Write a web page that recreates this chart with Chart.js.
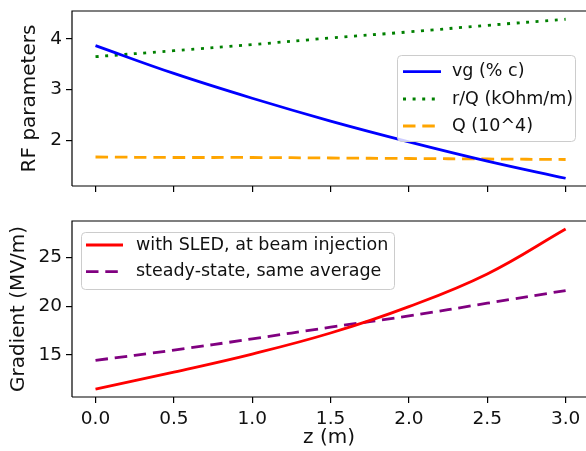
<!DOCTYPE html>
<html>
<head>
<meta charset="utf-8">
<script src="https://cdn.jsdelivr.net/npm/chart.js@4.4.0/dist/chart.umd.min.js"></script>
<style>
  html, body { margin: 0; padding: 0; background: #fff; }
  #wrap { position: relative; width: 586px; height: 451px; overflow: hidden; }
  canvas { position: absolute; left: 0; }
  #c_top { top: 0; }
  #c_bot { top: 200px; }
</style>
</head>
<body>
<div id="wrap">
  <canvas id="c_top" width="586" height="200"></canvas>
  <canvas id="c_bot" width="586" height="251"></canvas>
</div>
<script>
// z positions along the structure (m)
const z_pos = [0, 0.5, 1.0, 1.5, 2.0, 2.5, 3.0];

// top panel: RF parameters
const vg_pct_c = [3.87, 3.32, 2.83, 2.38, 1.97, 1.59, 1.25];
const r_over_q = [3.65, 3.77, 3.89, 4.02, 4.14, 4.27, 4.39];
const q_1e4 = [1.67, 1.66, 1.66, 1.65, 1.64, 1.63, 1.62];

// bottom panel: gradient (MV/m)
const grad_sled = [11.5, 13.25, 15.1, 17.25, 19.95, 23.3, 27.9];
const grad_steady = [14.45, 15.5, 16.65, 17.85, 19.0, 20.3, 21.6];

// tick labels
const z_ticks = [0, 0.5, 1.0, 1.5, 2.0, 2.5, 3.0];
const rf_ticks = [2, 3, 4];
const grad_ticks = [15, 20, 25];

const FONT = 'DejaVu Sans';
Chart.defaults.font.family = FONT;
Chart.defaults.color = '#111';

const pts = (ys) => z_pos.map((x, i) => ({ x: x, y: ys[i] }));

const line_ds = (label, ys, color, dash) => ({
  label: label,
  data: pts(ys),
  borderColor: color,
  borderWidth: 2.8,
  borderDash: dash,
  borderCapStyle: 'butt',
  pointRadius: 0,
  tension: 0.4,
  fill: false
});

// spines: left, top, bottom (right one falls outside the picture)
const frame_plugin = {
  id: 'frame',
  afterDatasetsDraw(chart) {
    const { ctx, chartArea: a } = chart;
    ctx.save();
    ctx.strokeStyle = '#000';
    ctx.lineWidth = 1.2;
    ctx.beginPath();
    ctx.moveTo(a.left, a.bottom);
    ctx.lineTo(a.left, a.top);
    ctx.lineTo(a.right + 4, a.top);
    ctx.moveTo(a.left, a.bottom);
    ctx.lineTo(a.right + 4, a.bottom);
    ctx.stroke();
    ctx.restore();
  }
};

// matplotlib-like legend box
const box_legend_plugin = {
  id: 'box_legend',
  afterDatasetsDraw(chart, args, o) {
    const ctx = chart.ctx;
    ctx.save();
    ctx.beginPath();
    ctx.roundRect(o.x + 0.5, o.y + 0.5, o.w, o.h, 4);
    ctx.fillStyle = 'rgba(255,255,255,0.8)';
    ctx.fill();
    ctx.strokeStyle = '#cccccc';
    ctx.lineWidth = 1;
    ctx.stroke();
    chart.data.datasets.forEach((ds, i) => {
      const ry = o.rows[i];
      ctx.beginPath();
      ctx.setLineDash(ds.borderDash || []);
      ctx.lineCap = 'butt';
      ctx.strokeStyle = ds.borderColor;
      ctx.lineWidth = ds.borderWidth;
      ctx.moveTo(o.hx0, ry);
      ctx.lineTo(o.hx1, ry);
      ctx.stroke();
      ctx.setLineDash([]);
      ctx.fillStyle = '#111';
      ctx.font = `${o.font_size}px '${FONT}'`;
      ctx.textBaseline = 'middle';
      ctx.textAlign = 'left';
      ctx.fillText(ds.label, o.tx, ry);
    });
    ctx.restore();
  }
};

const x_scale = (show_labels, scale_h) => ({
  type: 'linear',
  min: -0.15,
  max: 3.13,
  afterBuildTicks: (s) => { s.ticks = z_ticks.map(v => ({ value: v })); },
  afterFit: (s) => { s.height = scale_h; },
  grid: { drawOnChartArea: false, drawTicks: true, tickLength: 6, tickColor: '#000', lineWidth: 1.2 },
  border: { display: false },
  ticks: {
    display: show_labels,
    padding: 5,
    maxRotation: 0,
    autoSkip: false,
    color: '#111',
    font: { size: 18.5 },
    callback: (v) => Number(v).toFixed(1)
  },
  title: {
    display: show_labels,
    text: 'z (m)',
    color: '#111',
    font: { size: 20 },
    padding: { top: 0, bottom: 1 }
  }
});

const y_scale = (lo, hi, tick_list, title, title_pad) => ({
  type: 'linear',
  min: lo,
  max: hi,
  afterBuildTicks: (s) => { s.ticks = tick_list.map(v => ({ value: v })); },
  afterFit: (s) => { s.width = 72; s.paddingTop = 0; s.paddingBottom = 0; },
  grid: { drawOnChartArea: false, drawTicks: true, tickLength: 6, tickColor: '#000', lineWidth: 1.2 },
  border: { display: false },
  ticks: { padding: 4, color: '#111', font: { size: 18.5 }, callback: (v) => String(v) },
  title: { display: true, text: title, color: '#111', font: { size: 20 }, padding: { top: title_pad, bottom: 0 } }
});

new Chart(document.getElementById('c_top').getContext('2d'), {
  type: 'line',
  data: {
    datasets: [
      line_ds('vg (% c)', vg_pct_c, '#0000ff', []),
      line_ds('r/Q (kOhm/m)', r_over_q, '#008000', [3, 6.6]),
      line_ds('Q (10^4)', q_1e4, '#ffa500', [12.5, 6.8])
    ]
  },
  options: {
    responsive: false,
    animation: false,
    layout: { padding: { top: 11, left: 0, right: 0, bottom: 0 } },
    scales: {
      x: x_scale(false, 14),
      y: y_scale(1.097, 4.553, rf_ticks, 'RF parameters', 18)
    },
    plugins: {
      legend: { display: false },
      tooltip: { enabled: false },
      box_legend: { x: 397, y: 55, w: 178, h: 86, rows: [71.7, 99, 126], hx0: 403, hx1: 441, tx: 452, font_size: 17.5 }
    }
  },
  plugins: [frame_plugin, box_legend_plugin]
});

new Chart(document.getElementById('c_bot').getContext('2d'), {
  type: 'line',
  data: {
    datasets: [
      line_ds('with SLED, at beam injection', grad_sled, '#ff0000', []),
      line_ds('steady-state, same average', grad_steady, '#800080', [12.5, 6.8])
    ]
  },
  options: {
    responsive: false,
    animation: false,
    layout: { padding: { top: 21, left: 0, right: 0, bottom: 0 } },
    scales: {
      x: x_scale(true, 54),
      y: y_scale(10.7, 28.72, grad_ticks, 'Gradient (MV/m)', 7)
    },
    plugins: {
      legend: { display: false },
      tooltip: { enabled: false },
      box_legend: { x: 81, y: 32, w: 313, h: 57, rows: [45, 71.7], hx0: 86, hx1: 123, tx: 136, font_size: 17.5 }
    }
  },
  plugins: [frame_plugin, box_legend_plugin]
});
</script>
</body>
</html>
